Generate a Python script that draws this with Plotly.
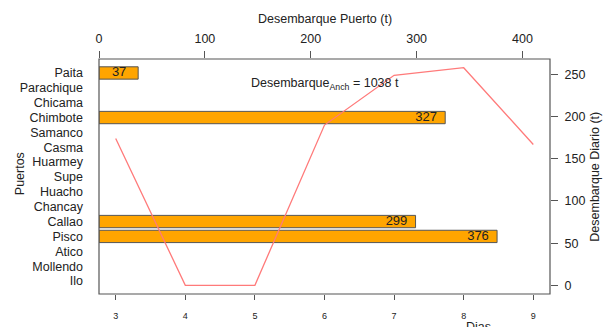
import plotly.graph_objects as go

ports = ["Paita", "Parachique", "Chicama", "Chimbote", "Samanco", "Casma", "Huarmey",
         "Supe", "Huacho", "Chancay", "Callao", "Pisco", "Atico", "Mollendo", "Ilo"]
port_landings = [37, None, None, 327, None, None, None, None, None, None, 299, 376, None, None, None]

days = [3, 4, 5, 6, 7, 8, 9]
daily_landings = [174, 0, 0, 190, 249, 258, 167]

top_ticks = [0, 100, 200, 300, 400]
right_ticks = [0, 50, 100, 150, 200, 250]

total = sum(daily_landings)

# numeric positions so Paita is on top
ypos = [len(ports) - 1 - i for i in range(len(ports))]

FONT = "Liberation Sans, Arial, sans-serif"
AX = "#555555"
TXT = "#222222"
FS = 12.5

fig = go.Figure()

fig.add_trace(go.Bar(
    x=port_landings, y=ypos, orientation="h", width=0.83,
    marker=dict(color="#FFA500", line=dict(color="#555555", width=1)),
    xaxis="x", yaxis="y", showlegend=False, hoverinfo="skip"))

lab_x = [v - 18 if v is not None else None for v in port_landings]
lab_t = [str(v) if v is not None else "" for v in port_landings]
fig.add_trace(go.Scatter(
    x=lab_x, y=ypos, mode="text", text=lab_t,
    textfont=dict(family=FONT, size=13, color="#222222"),
    xaxis="x", yaxis="y", showlegend=False, hoverinfo="skip"))

fig.add_trace(go.Scatter(
    x=days, y=daily_landings, mode="lines",
    line=dict(color="#FF7A7A", width=1.3),
    xaxis="x2", yaxis="y2", showlegend=False, hoverinfo="skip"))

fig.update_layout(
    width=610, height=327,
    margin=dict(l=99, r=60, t=59, b=33),
    paper_bgcolor="white", plot_bgcolor="white",
    font=dict(family=FONT, color=TXT, size=FS),
    xaxis=dict(range=[0, 426], tickvals=top_ticks, ticks="outside", ticklen=7,
               tickcolor=AX, showgrid=False, zeroline=False, showline=False,
               side="top", anchor="y", ticklabelstandoff=3, automargin=False,
               tickfont=dict(size=FS, color=TXT)),
    yaxis=dict(range=[-0.875, len(ports) - 1 + 0.94], tickvals=ypos, ticktext=ports,
               ticks="", showgrid=False, zeroline=False, showline=False,
               tickfont=dict(size=FS, color=TXT), anchor="x", side="left",
               ticklabelstandoff=15, automargin=False),
    xaxis2=dict(range=[2.76, 9.24], tickvals=days, ticks="outside", ticklen=5,
                tickcolor=AX, showgrid=False, zeroline=False, showline=False,
                tickfont=dict(size=9, color=TXT), overlaying="x", side="bottom",
                anchor="y2", ticklabelstandoff=8, automargin=False),
    yaxis2=dict(range=[-10.3, 268.3], tickvals=right_ticks, ticks="outside", ticklen=7,
                tickcolor=AX, showgrid=False, zeroline=False, showline=False,
                overlaying="y", side="right", anchor="x2", ticklabelstandoff=4,
                automargin=False, tickfont=dict(size=FS, color=TXT)),
)

# plot box
fig.add_shape(type="rect", xref="paper", yref="paper", x0=0, x1=1, y0=0, y1=1,
              line=dict(color=AX, width=1.2))

fig.add_annotation(x=6, y=239, xref="x2", yref="y2", showarrow=False,
                   text=f"Desembarque<sub>Anch</sub> = {total} t",
                   font=dict(size=FS, color=TXT))

fig.add_annotation(x=0.5, y=1, xref="paper", yref="paper", yshift=31, showarrow=False,
                   text="Desembarque Puerto (t)", font=dict(size=FS, color=TXT),
                   yanchor="bottom")
fig.add_annotation(x=-0.195, y=0.51, xref="paper", yref="paper", showarrow=False,
                   text="Puertos", textangle=-90, font=dict(size=FS, color=TXT))
fig.add_annotation(x=1.118, y=0.5, xref="paper", yref="paper", showarrow=False,
                   text="Desembarque Diario (t)", textangle=-90, font=dict(size=FS, color=TXT))
fig.add_annotation(x=0.874, y=-0.1, xref="paper", yref="paper", showarrow=False,
                   text="Dias", yanchor="top", font=dict(size=FS, color=TXT))

fig.write_html("out.html")
